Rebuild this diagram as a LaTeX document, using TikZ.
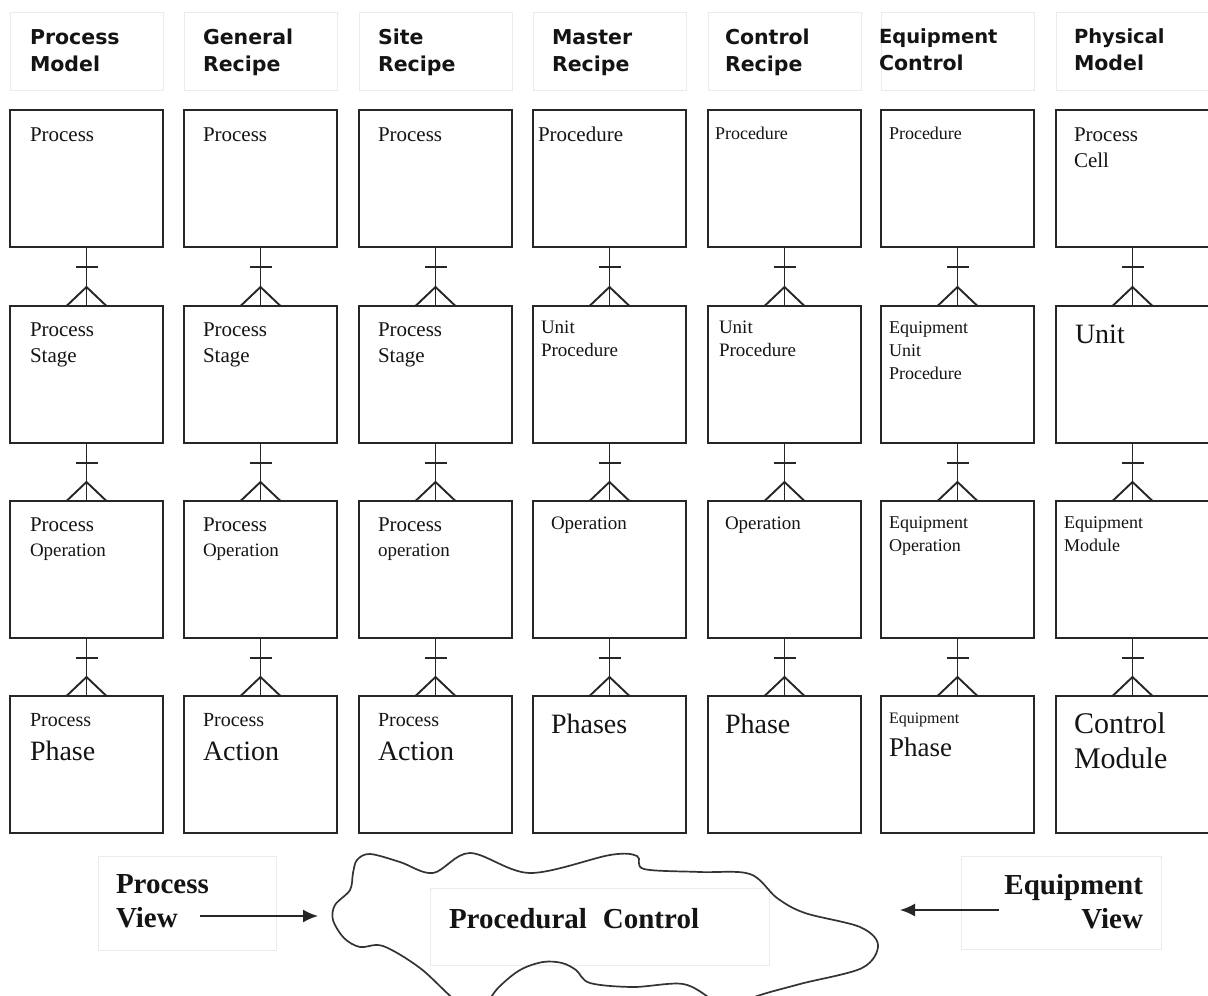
\documentclass[tikz,border=0pt]{standalone}
\usepackage{fontspec}
\setmainfont{Liberation Serif}
\newfontfamily\hdrfont{DejaVu Sans}
\usetikzlibrary{arrows.meta}

\begin{document}
\begin{tikzpicture}[x=1pt,y=-1pt,
  cell/.style={draw=black!85, line width=2pt, minimum width=153pt, minimum height=137pt,
    anchor=north west, inner sep=0pt, outer sep=0pt},
  faint/.style={draw=black!8, line width=0.7pt},
  link/.style={draw=black!85, line width=1.9pt},
  txt/.style={anchor=base west, inner sep=0pt, outer sep=0pt, text=black!92},
  hdr/.style={txt, font=\hdrfont\bfseries\fontsize{20.5}{24}\selectfont},
  hdrs/.style={txt, font=\hdrfont\bfseries\fontsize{19.5}{23}\selectfont},
  fs/.style={font=\fontsize{#1}{#1}\selectfont},
  view/.style={txt, font=\bfseries\fontsize{29}{34}\selectfont}
]
\useasboundingbox (0,0) rectangle (1208,996);
\clip (0,0) rectangle (1208,996);

% column headers with their faint frames
\foreach \x in {10,184,359,533,708,881,1056}
  \draw[faint] (\x,12) rectangle ++(153,78);
\node[hdr] (h1a) at (30,44) {Process};
\node[hdr] (h1b) at (30,71) {Model};
\node[hdr] (h2a) at (203,44) {General};
\node[hdr] (h2b) at (203,71) {Recipe};
\node[hdr] (h3a) at (378,44) {Site};
\node[hdr] (h3b) at (378,71) {Recipe};
\node[hdr] (h4a) at (552,44) {Master};
\node[hdr] (h4b) at (552,71) {Recipe};
\node[hdr] (h5a) at (725,44) {Control};
\node[hdr] (h5b) at (725,71) {Recipe};
\node[hdrs] (h6a) at (879,43) {Equipment};
\node[hdr] (h6b) at (879,70) {Control};
\node[hdrs] (h7a) at (1074,43) {Physical};
\node[hdr] (h7b) at (1074,70) {Model};

% grid of boxes
\foreach \c/\x in {1/10,2/184,3/359,4/533,5/708,6/881,7/1056}
  \foreach \r/\y in {1/110,2/306,3/501,4/696}
    \node[cell] (b\r\c) at (\x,\y) {};

% one-to-many links between levels
\foreach \c in {1,...,7}
  \foreach \r/\s in {1/2,2/3,3/4} {
    \draw[link] (b\r\c.south) -- (b\s\c.north);
    \draw[link] ([shift={(-11,20)}]b\r\c.south) -- ([shift={(11,20)}]b\r\c.south);
    \draw[link] ([xshift=-20pt]b\s\c.north) -- ([shift={(0,-19)}]b\s\c.north) -- ([xshift=20pt]b\s\c.north);
  }

% level 1
\node[txt,fs=21] (t11a) at (30,141) {Process};
\node[txt,fs=21] (t12a) at (203,141) {Process};
\node[txt,fs=21] (t13a) at (378,141) {Process};
\node[txt,fs=21] (t14a) at (538,141) {Procedure};
\node[txt,fs=18] (t15a) at (715,139) {Procedure};
\node[txt,fs=18] (t16a) at (889,139) {Procedure};
\node[txt,fs=21] (t17a) at (1074,141) {Process};
\node[txt,fs=21] (t17b) at (1074,167) {Cell};

% level 2
\node[txt,fs=21] (t21a) at (30,336) {Process};
\node[txt,fs=21] (t21b) at (30,362) {Stage};
\node[txt,fs=21] (t22a) at (203,336) {Process};
\node[txt,fs=21] (t22b) at (203,362) {Stage};
\node[txt,fs=21] (t23a) at (378,336) {Process};
\node[txt,fs=21] (t23b) at (378,362) {Stage};
\node[txt,fs=19] (t24a) at (541,333) {Unit};
\node[txt,fs=19] (t24b) at (541,356) {Procedure};
\node[txt,fs=19] (t25a) at (719,333) {Unit};
\node[txt,fs=19] (t25b) at (719,356) {Procedure};
\node[txt,fs=18] (t26a) at (889,333) {Equipment};
\node[txt,fs=18] (t26b) at (889,356) {Unit};
\node[txt,fs=18] (t26c) at (889,379) {Procedure};
\node[txt,fs=28] (t27a) at (1075,343) {Unit};

% level 3
\node[txt,fs=21] (t31a) at (30,531) {Process};
\node[txt,fs=19] (t31b) at (30,556) {Operation};
\node[txt,fs=21] (t32a) at (203,531) {Process};
\node[txt,fs=19] (t32b) at (203,556) {Operation};
\node[txt,fs=21] (t33a) at (378,531) {Process};
\node[txt,fs=19] (t33b) at (378,556) {operation};
\node[txt,fs=19] (t34a) at (551,529) {Operation};
\node[txt,fs=19] (t35a) at (725,529) {Operation};
\node[txt,fs=18] (t36a) at (889,528) {Equipment};
\node[txt,fs=18] (t36b) at (889,551) {Operation};
\node[txt,fs=18] (t37a) at (1064,528) {Equipment};
\node[txt,fs=18] (t37b) at (1064,551) {Module};

% level 4
\node[txt,fs=20] (t41a) at (30,726) {Process};
\node[txt,fs=28] (t41b) at (30,760) {Phase};
\node[txt,fs=20] (t42a) at (203,726) {Process};
\node[txt,fs=28] (t42b) at (203,760) {Action};
\node[txt,fs=20] (t43a) at (378,726) {Process};
\node[txt,fs=28] (t43b) at (378,760) {Action};
\node[txt,fs=28] (t44a) at (551,733) {Phases};
\node[txt,fs=28] (t45a) at (725,733) {Phase};
\node[txt,fs=16] (t46a) at (889,723) {Equipment};
\node[txt,fs=27] (t46b) at (889,756) {Phase};
\node[txt,fs=30] (t47a) at (1074,733) {Control};
\node[txt,fs=30] (t47b) at (1074,768) {Module};

% faint frames of the bottom labels
\draw[faint] (98,856) rectangle (276,950);
\draw[faint] (430,888) rectangle (769,965);
\draw[faint] (961,856) rectangle (1161,949);

% procedural control cloud
\draw[black!80, line width=1.7pt] plot[smooth cycle, tension=0.55] coordinates {
  (370,854) (400,862) (433,873) (470,853) (530,873) (610,855) (637,856) (644,869)
  (700,872) (750,874) (777,898) (805,913) (860,927) (878,945) (862,968) (800,984)
  (752,998) (735,1012) (713,1000) (683,984) (633,987) (590,983) (576,970) (562,963)
  (543,962) (520,970) (498,988) (478,1012) (455,1000) (420,968) (383,946) (360,947)
  (344,938) (333,920) (335,905) (350,890) (353,873) (357,860)};

% bottom labels
\node[view] (pv1) at (116,893) {Process};
\node[view] (pv2) at (116,927) {View};
\node[view] (pc) at (449,928) {Procedural\hspace{0.55em}Control};
\node[view, anchor=base east] (ev1) at (1143,894) {Equipment};
\node[view, anchor=base east] (ev2) at (1143,928) {View};

\coordinate (pvs) at (200,916);
\coordinate (pve) at (318,916);
\coordinate (evs) at (999,910);
\coordinate (eve) at (900,910);
\draw[link, -{Latex[length=15pt,width=13pt]}] (pvs) -- (pve);
\draw[link, -{Latex[length=15pt,width=13pt]}] (evs) -- (eve);
\end{tikzpicture}
\end{document}
